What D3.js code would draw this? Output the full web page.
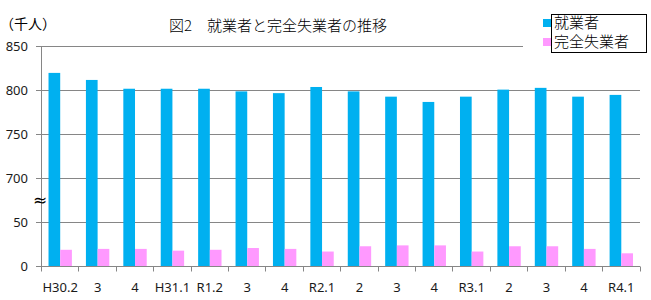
<!DOCTYPE html>
<html>
<head>
<meta charset="utf-8">
<script src="https://cdn.jsdelivr.net/npm/d3@7"></script>
<style>
  body { margin: 0; background: #fff; }
</style>
</head>
<body>
<div id="chart"></div>
<script>
const categories = ['H30.2', '3', '4', 'H31.1', 'R1.2', '3', '4', 'R2.1', '2', '3', '4', 'R3.1', '2', '3', '4', 'R4.1']
const employed = [820, 812, 802, 802, 802, 799, 797, 804, 799, 793, 787, 793, 801, 803, 793, 795]
const unemployed = [19, 20, 20, 18, 19, 21, 20, 17, 23, 24, 24, 17, 23, 23, 20, 15]
const seriesNames = ['就業者', '完全失業者']
const seriesColors = ['#00b0f0', '#ff99ff']
const yTicks = [0, 50, 700, 750, 800, 850]

const width = 651, height = 300
const jp = '"Noto Sans CJK JP", sans-serif'
const num = '"Noto Sans", sans-serif'

let svg = d3.select('#chart').append('svg')
  .attr('width', width)
  .attr('height', height)

// broken axis: 0-50 below the break, 700-850 above it
let y = d3.scaleLinear()
  .domain([0, 50, 700, 850])
  .range([266.5, 222.5, 178.5, 46.5])

let x0 = d3.scaleBand()
  .domain(d3.range(categories.length))
  .range([41.5, 640])

let x1 = d3.scaleBand()
  .domain([0, 1])
  .range([0, x0.bandwidth()])
  .paddingInner(0)
  .paddingOuter(0.6)

// gridlines
svg.append('g')
  .selectAll('line').data(yTicks.filter(d => d > 0))
  .enter().append('line')
    .attr('x1', 36)
    .attr('x2', 640)
    .attr('y1', d => y(d))
    .attr('y2', d => y(d))
    .attr('stroke', '#868686')
    .attr('stroke-width', 1)

// y labels
svg.append('g')
  .selectAll('text').data(yTicks)
  .enter().append('text')
    .attr('x', 28)
    .attr('y', d => y(d))
    .attr('dy', '0.35em')
    .attr('text-anchor', 'end')
    .attr('font-family', num)
    .attr('font-size', '13px')
    .attr('fill', '#1a1a1a')
    .text(d => d)

// bars
let data = categories.map((c, i) => [employed[i], unemployed[i]])
let groups = svg.append('g')
  .selectAll('g').data(data)
  .enter().append('g')
    .attr('transform', (d, i) => `translate(${x0(i)},0)`)

groups.selectAll('rect').data(d => d)
  .enter().append('rect')
    .attr('x', (d, j) => x1(j))
    .attr('width', x1.bandwidth())
    .attr('y', d => y(d))
    .attr('height', d => y(0) - y(d))
    .attr('fill', (d, j) => seriesColors[j])

// axes lines
svg.append('line')
  .attr('x1', 41.5).attr('x2', 41.5)
  .attr('y1', 46).attr('y2', 270)
  .attr('stroke', '#868686')
svg.append('line')
  .attr('x1', 36).attr('x2', 640)
  .attr('y1', y(0)).attr('y2', y(0))
  .attr('stroke', '#868686')

// x tick marks at category boundaries
svg.append('g')
  .selectAll('line').data(d3.range(categories.length + 1))
  .enter().append('line')
    .attr('x1', i => Math.round(41 + i * x0.step()) + 0.5)
    .attr('x2', i => Math.round(41 + i * x0.step()) + 0.5)
    .attr('y1', y(0))
    .attr('y2', y(0) + 5)
    .attr('stroke', '#868686')

// x labels
svg.append('g')
  .selectAll('text').data(categories)
  .enter().append('text')
    .attr('x', (d, i) => x0(i) + x0.bandwidth() / 2)
    .attr('y', 292)
    .attr('text-anchor', 'middle')
    .attr('font-family', num)
    .attr('font-size', '13px')
    .attr('fill', '#1a1a1a')
    .text(d => d)

// break mark
svg.append('text')
  .attr('x', 40)
  .attr('y', 200)
  .attr('dy', '0.35em')
  .attr('text-anchor', 'middle')
  .attr('font-family', '"DejaVu Sans", sans-serif')
  .attr('font-size', '17px')
  .attr('font-weight', 'normal')
  .attr('fill', '#000')
  .text('≈')

// unit label
svg.append('text')
  .attr('x', 0)
  .attr('y', 29)
  .attr('font-family', jp)
  .attr('font-size', '14px')
  .attr('fill', '#000')
  .text('（千人）')

// title
svg.append('text')
  .attr('x', 169)
  .attr('y', 31)
  .attr('font-family', jp)
  .attr('font-size', '15px')
  .attr('font-weight', 300)
  .attr('fill', '#000')
  .text('図2　就業者と完全失業者の推移')

// legend (its area hides the top gridline on the right)
svg.append('rect')
  .attr('x', 523).attr('y', 12)
  .attr('width', 125).attr('height', 42)
  .attr('fill', '#fff')

svg.append('rect')
  .attr('x', 551.5).attr('y', 14.5)
  .attr('width', 95).attr('height', 38)
  .attr('fill', '#fff')
  .attr('stroke', '#000')

let legend = svg.append('g')
  .selectAll('g').data(seriesNames)
  .enter().append('g')
    .attr('transform', (d, i) => `translate(543, ${19 + i * 19})`)

legend.append('rect')
  .attr('width', 8)
  .attr('height', 8)
  .attr('fill', (d, i) => seriesColors[i])

legend.append('text')
  .attr('x', 11)
  .attr('y', 4)
  .attr('dy', '0.35em')
  .attr('font-family', jp)
  .attr('font-size', '15px')
  .attr('font-weight', 300)
  .attr('fill', '#000')
  .text(d => d)
</script>
</body>
</html>
